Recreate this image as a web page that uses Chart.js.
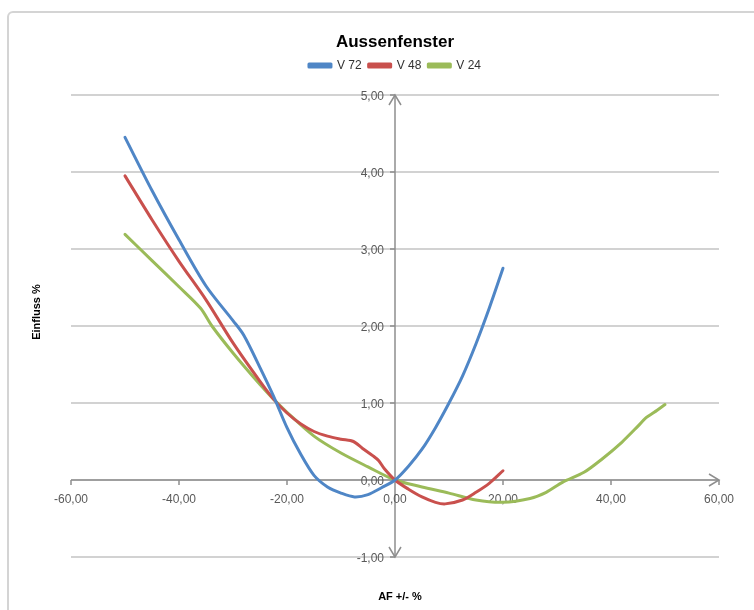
<!DOCTYPE html>
<html>
<head>
<meta charset="utf-8">
<script src="https://cdn.jsdelivr.net/npm/chart.js@4.4.1/dist/chart.umd.min.js"></script>
<style>
    html, body { margin: 0; padding: 0; background: #fff; overflow: hidden; }
    #wrap { position: relative; width: 754px; height: 610px; }
    #frame { position: absolute; left: 7px; top: 11px; width: 800px; height: 700px;
             border: 2px solid #d4d4d4; border-radius: 6px; }
    #myChart { position: absolute; left: 0; top: 0; }
</style>
</head>
<body>
<div id="wrap">
    <div id="frame"></div>
    <canvas id="myChart" width="754" height="610"></canvas>
</div>
<script>
// values
var xV72 = [-50, -45, -40, -35, -30, -28, -25, -22.5, -20, -17.5, -15, -12.5, -10, -7.5, -5, -2.5, 0, 2.5, 5, 7.5, 10, 12.5, 15, 17.5, 20];
var yV72 = [4.45, 3.76, 3.12, 2.52, 2.07, 1.88, 1.46, 1.09, 0.68, 0.34, 0.06, -0.09, -0.17, -0.22, -0.19, -0.1, 0, 0.18, 0.4, 0.68, 1.0, 1.35, 1.77, 2.24, 2.75];

var xV48 = [-50, -45, -40, -35, -30, -25, -22.5, -20, -17.5, -15, -12.5, -10, -7.7, -6, -4, -3, -2, 0, 2.5, 5, 7.5, 9.3, 12.5, 15, 17.5, 20];
var yV48 = [3.95, 3.38, 2.84, 2.34, 1.78, 1.28, 1.05, 0.87, 0.73, 0.63, 0.57, 0.53, 0.5, 0.41, 0.31, 0.25, 0.15, 0, -0.12, -0.22, -0.29, -0.31, -0.26, -0.16, -0.04, 0.12];

var xV24 = [-50, -45, -40, -36, -33.9, -30, -25, -22.5, -20, -15, -10, -5, 0, 5, 10, 15, 20, 25, 28, 31, 35, 38.3, 42, 45, 46.5, 48, 50];
var yV24 = [3.19, 2.85, 2.51, 2.23, 2.0, 1.65, 1.24, 1.05, 0.88, 0.57, 0.35, 0.17, 0, -0.09, -0.17, -0.26, -0.29, -0.24, -0.16, -0.03, 0.1, 0.27, 0.49, 0.7, 0.81, 0.88, 0.98];

var xTicks = [-60, -40, -20, 0, 20, 40, 60];
var yTicks = [-1, 0, 1, 2, 3, 4, 5];

function toPoints(xs, ys) {
    var pts = [];
    for (var i = 0; i < xs.length; i++) {
        pts.push({x: xs[i], y: ys[i]});
    }
    return pts;
}

function fmt(v) {
    return v.toFixed(2).replace(".", ",");
}

// fixed legend block height so the plot starts where the original does
var legendGap = {
    id: "legendGap",
    beforeInit: function (chart) {
        var fitValue = chart.legend.fit;
        chart.legend.fit = function fit() {
            fitValue.bind(chart.legend)();
            this.height = 42.6;
        };
    }
};

// axes crossing at 0 with arrows, drawn under the lines
var crossAxes = {
    id: "crossAxes",
    beforeDatasetsDraw: function (chart) {
        var ctx = chart.ctx;
        var xs = chart.scales.x, ys = chart.scales.y;
        var x0 = xs.getPixelForValue(0);
        var y0 = ys.getPixelForValue(0);
        var left = xs.getPixelForValue(-60), right = xs.getPixelForValue(60);
        var top = ys.getPixelForValue(5), bottom = ys.getPixelForValue(-1);

        ctx.save();
        ctx.strokeStyle = "#8e8e8e";
        ctx.lineWidth = 1.5;
        ctx.beginPath();
        ctx.moveTo(left, y0); ctx.lineTo(right, y0);
        ctx.moveTo(x0, top); ctx.lineTo(x0, bottom);
        // x ticks
        for (var i = 0; i < xTicks.length; i++) {
            var px = xs.getPixelForValue(xTicks[i]);
            ctx.moveTo(px, y0); ctx.lineTo(px, y0 + 5);
        }
        // y ticks
        for (var j = 0; j < yTicks.length; j++) {
            var py = ys.getPixelForValue(yTicks[j]);
            ctx.moveTo(x0 - 5, py); ctx.lineTo(x0, py);
        }
        ctx.stroke();

        // arrow heads
        ctx.beginPath();
        ctx.moveTo(right - 10, y0 - 6); ctx.lineTo(right, y0); ctx.lineTo(right - 10, y0 + 6);
        ctx.moveTo(x0 - 6, top + 10); ctx.lineTo(x0, top); ctx.lineTo(x0 + 6, top + 10);
        ctx.moveTo(x0 - 6, bottom - 10); ctx.lineTo(x0, bottom); ctx.lineTo(x0 + 6, bottom - 10);
        ctx.stroke();

        ctx.fillStyle = "#595959";
        ctx.font = "12px 'Liberation Sans'";
        ctx.textAlign = "center";
        ctx.textBaseline = "middle";
        for (var k = 0; k < xTicks.length; k++) {
            ctx.fillText(fmt(xTicks[k]), xs.getPixelForValue(xTicks[k]), y0 + 20);
        }
        ctx.textAlign = "right";
        for (var m = 0; m < yTicks.length; m++) {
            ctx.fillText(fmt(yTicks[m]), x0 - 11, ys.getPixelForValue(yTicks[m]) + 2);
        }

        // axis titles
        ctx.fillStyle = "#000";
        ctx.font = "bold 11px 'Liberation Sans'";
        ctx.textAlign = "center";
        ctx.fillText("AF +/- %", 400, 597);
        ctx.translate(37, 312);
        ctx.rotate(-Math.PI / 2);
        ctx.fillText("Einfluss %", 0, 0);
        ctx.restore();
    }
};

var ctx = document.getElementById("myChart").getContext("2d");
var myChart = new Chart(ctx, {
    type: "scatter",
    data: {
        datasets: [{
            label: "V 72",
            data: toPoints(xV72, yV72),
            borderColor: "#4f86c6",
            backgroundColor: "#4f86c6"
        }, {
            label: "V 48",
            data: toPoints(xV48, yV48),
            borderColor: "#c9504d",
            backgroundColor: "#c9504d"
        }, {
            label: "V 24",
            data: toPoints(xV24, yV24),
            borderColor: "#9bbb59",
            backgroundColor: "#9bbb59"
        }]
    },
    options: {
        responsive: false,
        animation: false,
        showLine: true,
        elements: {
            point: { radius: 0, hoverRadius: 0 },
            line: { borderWidth: 3, tension: 0.3, borderCapStyle: "round", borderJoinStyle: "round" }
        },
        layout: { padding: { left: 71, right: 35, top: 30, bottom: 53 } },
        plugins: {
            title: {
                display: true,
                text: "Aussenfenster",
                color: "#000",
                font: { family: "'Liberation Sans'", size: 17, weight: "bold" },
                padding: { top: 2, bottom: 0 }
            },
            legend: {
                display: true,
                position: "top",
                labels: {
                    boxWidth: 22,
                    boxHeight: 3,
                    padding: 7,
                    color: "#333",
                    font: { family: "'Liberation Sans'", size: 12 }
                }
            },
            tooltip: { enabled: false }
        },
        scales: {
            x: {
                type: "linear",
                min: -60,
                max: 60,
                display: false
            },
            y: {
                type: "linear",
                min: -1,
                max: 5,
                ticks: { display: false, stepSize: 1 },
                border: { display: false },
                grid: { color: "#d2d2d2", lineWidth: 2, drawTicks: false }
            }
        }
    },
    plugins: [legendGap, crossAxes]
});
</script>
</body>
</html>
